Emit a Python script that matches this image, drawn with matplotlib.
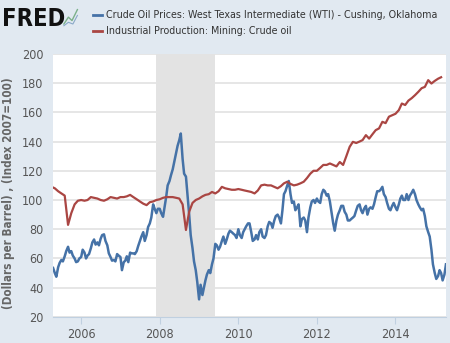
import pandas as pd
import matplotlib.pyplot as plt
from matplotlib.lines import Line2D

wti_2005 = [53.5, 50, 47.5, 54, 57, 59, 58, 61.5, 65, 68, 64, 65, 62, 60, 57.5, 58, 60]
wti_2006 = [61, 66, 64, 60, 62, 63, 67, 71, 73, 69.5, 71, 69, 73.5, 76, 76.5, 72, 69, 63.5, 61, 58.5, 59, 58, 63, 62]
wti_2007 = [61, 52, 57.5, 58.5, 61.5, 57.5, 64, 63.5, 63.5, 63, 65, 68.5, 72, 75, 78, 72, 76, 81.5, 84, 88, 97, 94, 91, 94]
wti_2008 = [94, 91, 88.5, 95, 102, 110, 113, 117, 121, 126, 132, 137, 141, 145.5, 128, 118, 116, 104, 90, 76, 67, 58, 52, 44]
wti_2009 = [32, 42, 35, 40, 45, 49, 52, 50, 56, 60, 70, 69, 66, 68, 72, 75, 70, 73, 77, 79, 78, 77, 76, 74]
wti_2010 = [80, 76, 74, 78, 80, 82, 84, 84, 78, 72, 73, 76, 73, 78, 80, 75, 74, 76, 82, 85, 84, 81, 86, 89]
wti_2011 = [90, 88, 84, 93, 104, 106, 110, 113, 104, 98, 99, 93, 95, 97, 82, 87, 88, 86, 78, 88, 95, 99, 100, 98]
wti_2012 = [101, 99, 98, 104, 107, 106, 103, 104, 99, 92, 84, 79, 86, 90, 93, 96, 96, 92, 90, 86, 86, 87, 88, 89]
wti_2013 = [93, 96, 97, 93, 91, 94, 96, 90, 94, 95, 94, 97, 102, 106, 106, 107, 109, 104, 102, 98, 94, 93, 96, 98]
wti_2014 = [95, 93, 97, 101, 103, 100, 100, 104, 100, 103, 105, 107, 104, 100, 97, 95, 93, 94, 89, 82, 78, 75, 66, 56]
wti_2015 = [50, 46, 48, 52, 50, 45, 49, 56]

# Industrial production: mining: crude oil, index 2007=100, monthly Apr 2005 -> Mar 2015
ip_2005 = [109, 108, 106, 104.5, 103, 83, 91, 97, 99.5]
ip_2006 = [100, 99.5, 100, 102, 101.5, 101, 100, 99.5, 100.5, 102, 101.5, 101]
ip_2007 = [102, 102, 102.5, 103.5, 102, 100.5, 99, 97.5, 96.5, 98.5, 99, 100]
ip_2008 = [100.5, 101.5, 102, 102, 102, 101.5, 101, 97, 79.5, 92, 98, 100]
ip_2009 = [101, 102.5, 103.5, 104, 105.5, 104.5, 106, 109, 108, 107.5, 107, 107]
ip_2010 = [107.5, 107, 106.5, 106, 105.5, 104.5, 106.5, 110, 110.5, 110, 110, 109]
ip_2011 = [108, 109.5, 111.4, 112.5, 111, 110, 110.5, 111.4, 112.5, 115, 118, 120]
ip_2012 = [120, 122, 124, 124, 125, 124, 123, 126, 124, 130, 136.4, 139.8]
ip_2013 = [139, 140, 141, 144.4, 142, 145, 147.8, 149, 153.5, 152.6, 157, 158]
ip_2014 = [159, 161.5, 166, 165, 168, 169.7, 171.7, 174, 176.5, 177.4, 182, 179.7]
ip_2015 = [181.5, 183, 184]

recession = ('2007-12-01', '2009-06-01')
year_ticks = [2006, 2008, 2010, 2012, 2014]
y_ticks = [20, 40, 60, 80, 100, 120, 140, 160, 180, 200]

wti = wti_2005 + wti_2006 + wti_2007 + wti_2008 + wti_2009 + wti_2010 + wti_2011 + wti_2012 + wti_2013 + wti_2014 + wti_2015
ip = ip_2005 + ip_2006 + ip_2007 + ip_2008 + ip_2009 + ip_2010 + ip_2011 + ip_2012 + ip_2013 + ip_2014 + ip_2015
wti_dates = pd.date_range('2005-04-15', periods=len(wti), freq='SMS')
ip_dates = pd.date_range('2005-04-01', periods=len(ip), freq='MS')

plt.rcParams['font.family'] = ['DejaVu Sans']
plt.rcParams['font.stretch'] = 'condensed'

bg = '#e1e9f1'
blue = '#4572a7'
red = '#aa4643'

fig = plt.figure(figsize=(4.5, 3.43), dpi=100, facecolor=bg)
ax = fig.add_axes([0.118, 0.076, 0.873, 0.767])
ax.set_facecolor('white')

ax.axvspan(pd.Timestamp(recession[0]), pd.Timestamp(recession[1]), color='#e3e3e3', zorder=0, lw=0)
ax.plot(wti_dates, wti, color=blue, lw=1.8, zorder=3)
ax.plot(ip_dates, ip, color=red, lw=1.6, zorder=4)

ax.set_xlim(wti_dates[0], wti_dates[-1])
ax.set_ylim(20, 200)
ax.set_yticks(y_ticks)
ax.set_xticks([pd.Timestamp(f'{y}-01-01') for y in year_ticks])
ax.set_xticklabels([str(y) for y in year_ticks])
ax.grid(axis='y', color='#e4e4e4', lw=1.3, zorder=1)
ax.set_axisbelow(True)

for s in ['top', 'right', 'left']:
    ax.spines[s].set_visible(False)
ax.spines['bottom'].set_color('#c0d0e0')
ax.tick_params(axis='y', length=0, labelsize=9, labelcolor='#555555', pad=7)
ax.tick_params(axis='x', length=5, color='#c0d0e0', labelsize=9, labelcolor='#555555', pad=3)

ax.set_ylabel('(Dollars per Barrel) , (Index 2007=100)', fontsize=8.4, color='#666666',
              fontweight='bold')
ax.yaxis.set_label_coords(-0.098, 0.47)

# header: FRED logo + legend
fig.text(0.004, 0.946, 'FRED', fontsize=17, fontweight='heavy', color='#111111', va='center')
fig.add_artist(Line2D([0.142, 0.152, 0.16, 0.172], [0.93, 0.95, 0.94, 0.972], color='#7bb08a', lw=1))
fig.add_artist(Line2D([0.142, 0.152, 0.162, 0.172], [0.925, 0.935, 0.93, 0.955], color='#8aa9c8', lw=0.8))
fig.add_artist(Line2D([0.207, 0.227], [0.956, 0.956], color=blue, lw=2))
fig.add_artist(Line2D([0.207, 0.227], [0.91, 0.91], color=red, lw=2))
fig.text(0.236, 0.956, 'Crude Oil Prices: West Texas Intermediate (WTI) - Cushing, Oklahoma',
         fontsize=7.7, color='#333333', va='center')
fig.text(0.236, 0.91, 'Industrial Production: Mining: Crude oil', fontsize=7.7, color='#333333', va='center')

fig.savefig('out.png', dpi=100, facecolor=bg)
